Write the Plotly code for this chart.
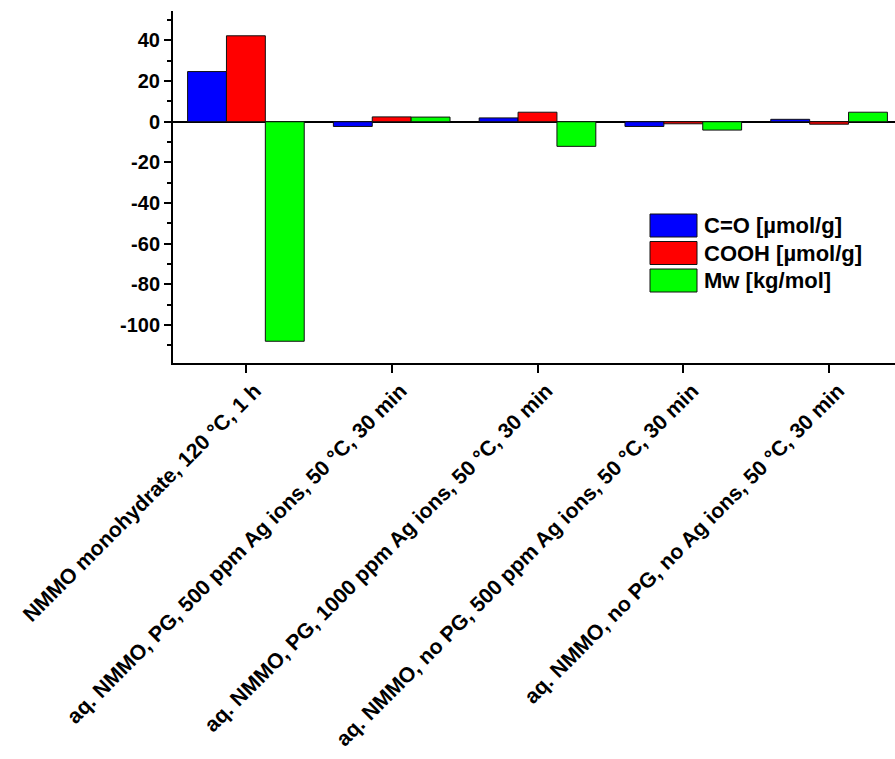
import plotly.graph_objects as go

# Treatment conditions (x categories)
conditions = [
    "NMMO monohydrate, 120 °C, 1 h",
    "aq. NMMO, PG, 500 ppm Ag ions, 50 °C, 30 min",
    "aq. NMMO, PG, 1000 ppm Ag ions, 50 °C, 30 min",
    "aq. NMMO, no PG, 500 ppm Ag ions, 50 °C, 30 min",
    "aq. NMMO, no PG, no Ag ions, 50 °C, 30 min",
]

# Change in each property relative to the reference pulp
series_names = ["C=O [µmol/g]", "COOH [µmol/g]", "Mw [kg/mol]"]
carbonyl = [24.7, -2.3, 1.9, -2.3, 1.2]
carboxyl = [42.3, 2.4, 4.7, -1.0, -1.2]
mw = [-108.0, 2.3, -12.1, -4.1, 4.7]
series_values = [carbonyl, carboxyl, mw]
series_colors = ["#0000FF", "#FF0000", "#00FF00"]

y_tick_vals = [40, 20, 0, -20, -40, -60, -80, -100]
y_tick_text = ["40", "20", "0", "-20", "-40", "-60", "-80", "-100"]

W, H = 895, 759
ML, MR, MT, MB = 173, 0, 11, 396
plot_w = W - ML - MR
plot_h = H - MT - MB

font_family = "Liberation Sans, Arial, sans-serif"
label_font = dict(family=font_family, size=21.2, color="black", weight=700)
legend_font = dict(family=font_family, size=22, color="black", weight=700)
ytick_font = dict(family=font_family, size=20, color="black", weight=700)


def bold(s):
    return "<b>" + s + "</b>"


fig = go.Figure()
for name, vals, col in zip(series_names, series_values, series_colors):
    fig.add_trace(go.Bar(
        x=conditions, y=vals, name=name,
        marker=dict(color=col, line=dict(color="#111111", width=1)),
        showlegend=False,
    ))

# Legend drawn as large swatches with labels (pixel layout converted to paper coords)
def px_x(px):
    return (px - ML) / plot_w


def px_y(py):
    return (H - MB - py) / plot_h


shapes = []
annotations = []
row_top = 214
row_step = 27.5
sw_h = 23
for i, (name, col) in enumerate(zip(series_names, series_colors)):
    top = row_top + i * row_step
    shapes.append(dict(
        type="rect", xref="paper", yref="paper",
        x0=px_x(650), x1=px_x(697), y0=px_y(top + sw_h), y1=px_y(top),
        fillcolor=col, line=dict(color="#111111", width=1),
    ))
    annotations.append(dict(
        xref="paper", yref="paper", x=px_x(702), y=px_y(top + sw_h / 2),
        xanchor="left", yanchor="middle", showarrow=False, text=bold(name),
        font=legend_font,
    ))

fig.update_layout(
    width=W, height=H,
    margin=dict(l=ML, r=MR, t=MT, b=MB, pad=0, autoexpand=False),
    paper_bgcolor="white", plot_bgcolor="white",
    barmode="group", bargap=0.2, bargroupgap=0,
    font=label_font,
    shapes=shapes, annotations=annotations,
    xaxis=dict(
        range=[-0.5, 4.452], showline=True, linecolor="black", linewidth=2,
        ticks="outside", ticklen=8, tickwidth=2, tickcolor="black",
        tickangle=-45, showgrid=False, automargin=False,
        tickvals=conditions, ticktext=[bold(c) for c in conditions],
        ticklabelshift=9, ticklabelstandoff=-3,
        tickfont=label_font,
    ),
    yaxis=dict(
        range=[-118.7, 54.5], showline=True, linecolor="black", linewidth=2,
        ticks="outside", ticklen=7, tickwidth=2, tickcolor="black", automargin=False,
        tickvals=y_tick_vals, ticktext=[bold(t) for t in y_tick_text],
        minor=dict(dtick=10, tick0=0, ticks="outside", ticklen=4, tickwidth=2, tickcolor="black"),
        showgrid=False, zeroline=True, zerolinecolor="black", zerolinewidth=2,
        tickfont=ytick_font,
    ),
)

fig.write_html("out.html")
